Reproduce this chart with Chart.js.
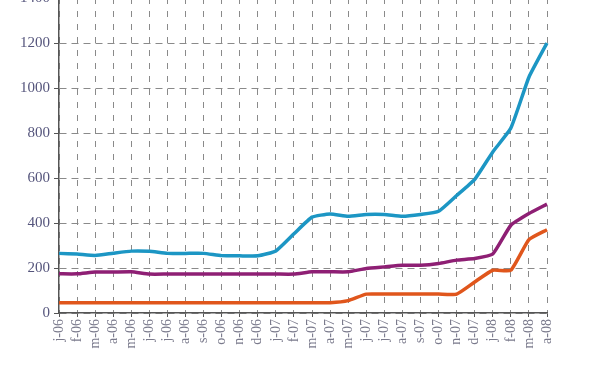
<!DOCTYPE html>
<html>
<head>
<meta charset="utf-8">
<script src="https://cdn.jsdelivr.net/npm/chart.js@4/dist/chart.umd.min.js"></script>
<style>
  html, body { margin: 0; padding: 0; background: #fff; overflow: hidden; }
  #wrap { position: absolute; left: 0; top: -15px; width: 600px; height: 387px; }
</style>
</head>
<body>
<div id="wrap"><canvas id="myChart" width="600" height="387"></canvas></div>
<script>
const months = ['j-06', 'f-06', 'm-06', 'a-06', 'm-06', 'j-06', 'j-06', 'a-06', 's-06', 'o-06', 'n-06', 'd-06',
  'j-07', 'f-07', 'm-07', 'a-07', 'm-07', 'j-07', 'j-07', 'a-07', 's-07', 'o-07', 'n-07', 'd-07',
  'j-08', 'f-08', 'm-08', 'a-08'];

const blueValues = [265, 262, 256, 266, 275, 274, 265, 265, 265, 255, 254, 254,
  276, 352, 426, 440, 430, 438, 438, 430, 438, 452, 522, 594,
  716, 822, 1048, 1200];

const purpleValues = [174, 174, 182, 182, 183, 173, 173, 173, 173, 173, 173, 173,
  173, 173, 183, 183, 183, 198, 205, 212, 212, 220, 235, 242,
  262, 390, 442, 484];

const orangeValues = [46, 46, 46, 46, 46, 46, 46, 46, 46, 46, 46, 46,
  46, 46, 46, 46, 55, 84, 84, 84, 84, 84, 84, 138,
  190, 190, 326, 370];

const yTicks = { min: 0, max: 1400, step: 200 };

const chartElement = document.getElementById('myChart').getContext('2d');

function makeSet(values, color) {
  return {
    data: values,
    fill: false,
    borderColor: color,
    borderWidth: 3.5,
    pointRadius: 0,
    tension: 0.15,
  };
}

const chart = new Chart(chartElement, {
  type: 'line',
  data: {
    labels: months,
    datasets: [
      makeSet(orangeValues, '#e0561c'),
      makeSet(purpleValues, '#8e1f74'),
      makeSet(blueValues, '#1c96c4'),
    ],
  },
  options: {
    responsive: false,
    animation: false,
    layout: { padding: { left: 0, right: 53, top: 12, bottom: 0 } },
    plugins: { legend: { display: false }, tooltip: { enabled: false } },
    scales: {
      x: {
        grid: { color: '#8a8a8a', lineWidth: 1, tickLength: 4, tickColor: '#555' },
        border: { display: true, color: '#555', width: 1.5, dash: [6, 7] },
        ticks: {
          autoSkip: false, maxRotation: 90, minRotation: 90, padding: 2,
          color: '#7a7a8c', font: { family: 'Liberation Serif', size: 14 },
        },
        afterFit: (scale) => { scale.height = 59; },
      },
      y: {
        min: yTicks.min,
        max: yTicks.max,
        grid: { color: '#8a8a8a', lineWidth: 1, tickLength: 5, tickColor: '#555' },
        border: { display: true, color: '#555', width: 1.5, dash: [7, 5] },
        ticks: {
          stepSize: yTicks.step, padding: 4,
          color: '#55557c', font: { family: 'Liberation Serif', size: 15 },
          callback: (value) => String(value),
        },
        afterFit: (scale) => { scale.width = 59; },
      },
    },
  },
});
</script>
</body>
</html>
